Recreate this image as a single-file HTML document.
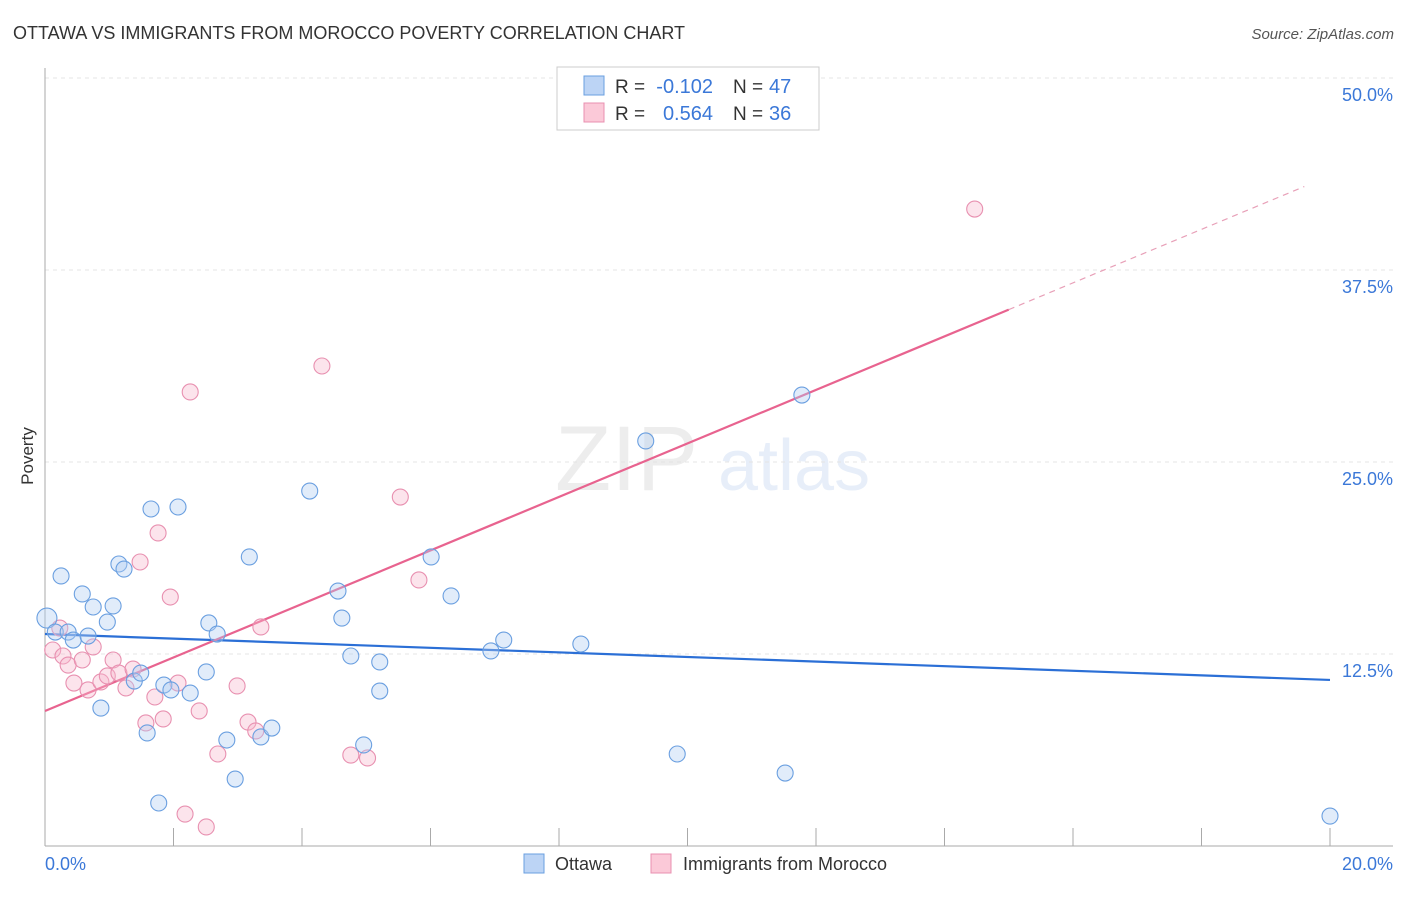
<!DOCTYPE html>
<html><head><meta charset="utf-8"><style>
body{margin:0;background:#fff;font-family:"Liberation Sans",sans-serif}
svg text{font-family:"Liberation Sans",sans-serif}
</style></head><body>
<svg id="chart" width="1406" height="892" viewBox="0 0 1406 892" xmlns="http://www.w3.org/2000/svg">
<text x="13" y="39" font-size="18" fill="#333">OTTAWA VS IMMIGRANTS FROM MOROCCO POVERTY CORRELATION CHART</text>
<text x="1394" y="39" font-size="15" fill="#555" text-anchor="end" font-style="italic">Source: ZipAtlas.com</text>
<g opacity="0.14">
<text x="555" y="490" font-size="92" fill="#888" font-family="Liberation Serif">ZIP</text>
<text x="718" y="490" font-size="72" fill="#5b8fd8">atlas</text>
</g>
<g id="grid"></g>
<g id="axes"></g>
<g id="trends"></g>
<g id="points"></g>
<text transform="translate(33,456) rotate(-90)" font-size="17" fill="#333" text-anchor="middle">Poverty</text>
<g>
<rect x="557" y="67" width="262" height="63" fill="#fff" stroke="#ccc"/>
<rect x="584" y="76" width="20" height="19" fill="#bcd4f5" stroke="#6a9fe0"/>
<rect x="584" y="103" width="20" height="19" fill="#fbc9d8" stroke="#e890b0"/>
<text x="615" y="93" font-size="19" fill="#333">R =</text>
<text x="713" y="93" font-size="20" fill="#3b78d8" text-anchor="end">-0.102</text>
<text x="733" y="93" font-size="19" fill="#333">N =</text>
<text x="769" y="93" font-size="20" fill="#3b78d8">47</text>
<text x="615" y="120" font-size="19" fill="#333">R =</text>
<text x="713" y="120" font-size="20" fill="#3b78d8" text-anchor="end">0.564</text>
<text x="733" y="120" font-size="19" fill="#333">N =</text>
<text x="769" y="120" font-size="20" fill="#3b78d8">36</text>
</g>
<g>
<rect x="524" y="854" width="20" height="19" fill="#bcd4f5" stroke="#6a9fe0"/>
<text x="555" y="870" font-size="18" fill="#333">Ottawa</text>
<rect x="651" y="854" width="20" height="19" fill="#fbc9d8" stroke="#e890b0"/>
<text x="683" y="870" font-size="18" fill="#333">Immigrants from Morocco</text>
</g>
</svg>
<script>
const yTicks=[12.5,25,37.5,50];
const yTickLabels=["12.5%","25.0%","37.5%","50.0%"];
const xTicks=[0,2,4,6,8,10,12,14,16,18,20];
const ottawaX=[0.03,0.16,0.25,0.36,0.44,0.58,0.67,0.75,0.87,0.97,1.06,1.15,1.23,1.39,1.49,1.59,1.65,1.77,1.85,1.96,2.07,2.26,2.51,2.55,2.68,2.83,2.96,3.18,3.36,3.53,4.12,4.56,4.62,4.76,4.96,5.21,5.21,6.01,6.32,6.94,7.14,8.34,9.35,9.84,11.52,11.78,20.0];
const ottawaY=[14.84,13.93,17.58,13.93,13.41,16.41,13.67,15.56,8.98,14.58,15.63,18.36,18.03,10.74,11.26,7.36,21.94,2.80,10.48,10.16,22.07,9.96,11.33,14.52,13.80,6.90,4.36,18.82,7.10,7.68,23.11,16.60,14.84,12.37,6.58,11.98,10.09,18.82,16.28,12.70,13.41,13.15,26.37,5.99,4.75,29.36,1.95];
const moroccoX=[0.12,0.23,0.28,0.36,0.45,0.58,0.67,0.75,0.87,0.97,1.06,1.15,1.26,1.37,1.48,1.57,1.71,1.76,1.84,1.95,2.07,2.18,2.26,2.40,2.51,2.69,2.99,3.16,3.28,3.36,4.31,4.76,5.02,5.53,5.82,14.47];
const moroccoY=[12.76,14.19,12.37,11.78,10.61,12.11,10.16,12.96,10.68,11.07,12.11,11.26,10.29,11.52,18.49,8.01,9.70,20.38,8.27,16.21,10.61,2.08,29.56,8.79,1.24,5.99,10.42,8.07,7.49,14.26,31.25,5.92,5.73,22.72,17.32,41.47];
const ottawaTrend=[13.80,-0.1495];
const moroccoTrend=[8.79,1.742];
const xs=v=>45+v*64.25, ys=v=>846-v*15.36;
const NS="http://www.w3.org/2000/svg";
function mk(t,a,p){const e=document.createElementNS(NS,t);for(const k in a)e.setAttribute(k,a[k]);p.appendChild(e);return e;}
const grid=document.getElementById('grid'),axes=document.getElementById('axes');
yTicks.forEach((v,i)=>{
 const l=mk('line',{x1:45,x2:1393,y1:ys(v),y2:ys(v),stroke:'#e4e4e4','stroke-dasharray':'4,4'},grid);
 
 
 const t=mk('text',{x:1393,y:ys(v)+23,'font-size':18,fill:'#3b78d8','text-anchor':'end'},axes);
 t.textContent=yTickLabels[i];
 
 
});
const xl=mk('line',{x1:45,x2:1393,y1:846,y2:846,stroke:'#aaa'},axes);


const yl=mk('line',{x1:45,x2:45,y1:68,y2:846,stroke:'#aaa'},axes);


xTicks.forEach(v=>{
 const t=mk('line',{x1:xs(v),x2:xs(v),y1:828,y2:846,stroke:'#aaa'},axes);
 
 
});
const x0=mk('text',{x:45,y:870,'font-size':18,fill:'#3b78d8'},axes);x0.textContent="0.0%";


const x1=mk('text',{x:1393,y:870,'font-size':18,fill:'#3b78d8','text-anchor':'end'},axes);x1.textContent="20.0%";


const tr=document.getElementById('trends');
const pts=document.getElementById('points');
function dots(X,Y,fill,stroke,name){X.forEach((x,i)=>{
 const c=mk('circle',{cx:xs(x),cy:ys(Y[i]),r:(i==0&&name=='ottawa-point')?10:8,fill:fill,stroke:stroke,'stroke-width':1.1},pts);
 
 
});}
dots(moroccoX,moroccoY,'rgba(248,185,205,0.38)','#e890b0','morocco-point');
dots(ottawaX,ottawaY,'rgba(175,205,242,0.38)','#6a9fe0','ottawa-point');
const bt=mk('line',{x1:xs(0),y1:ys(ottawaTrend[0]),x2:xs(20),y2:ys(ottawaTrend[0]+20*ottawaTrend[1]),stroke:'#2b6fd6','stroke-width':2.2},tr);


const pt=mk('line',{x1:xs(0),y1:ys(moroccoTrend[0]),x2:xs(15),y2:ys(moroccoTrend[0]+15*moroccoTrend[1]),stroke:'#e8638f','stroke-width':2.2},tr);


const pd=mk('line',{x1:xs(15),y1:ys(moroccoTrend[0]+15*moroccoTrend[1]),x2:xs(19.6),y2:ys(moroccoTrend[0]+19.6*moroccoTrend[1]),stroke:'#e8a0b8','stroke-width':1.2,'stroke-dasharray':'6,5'},tr);


</script>
</body></html>
